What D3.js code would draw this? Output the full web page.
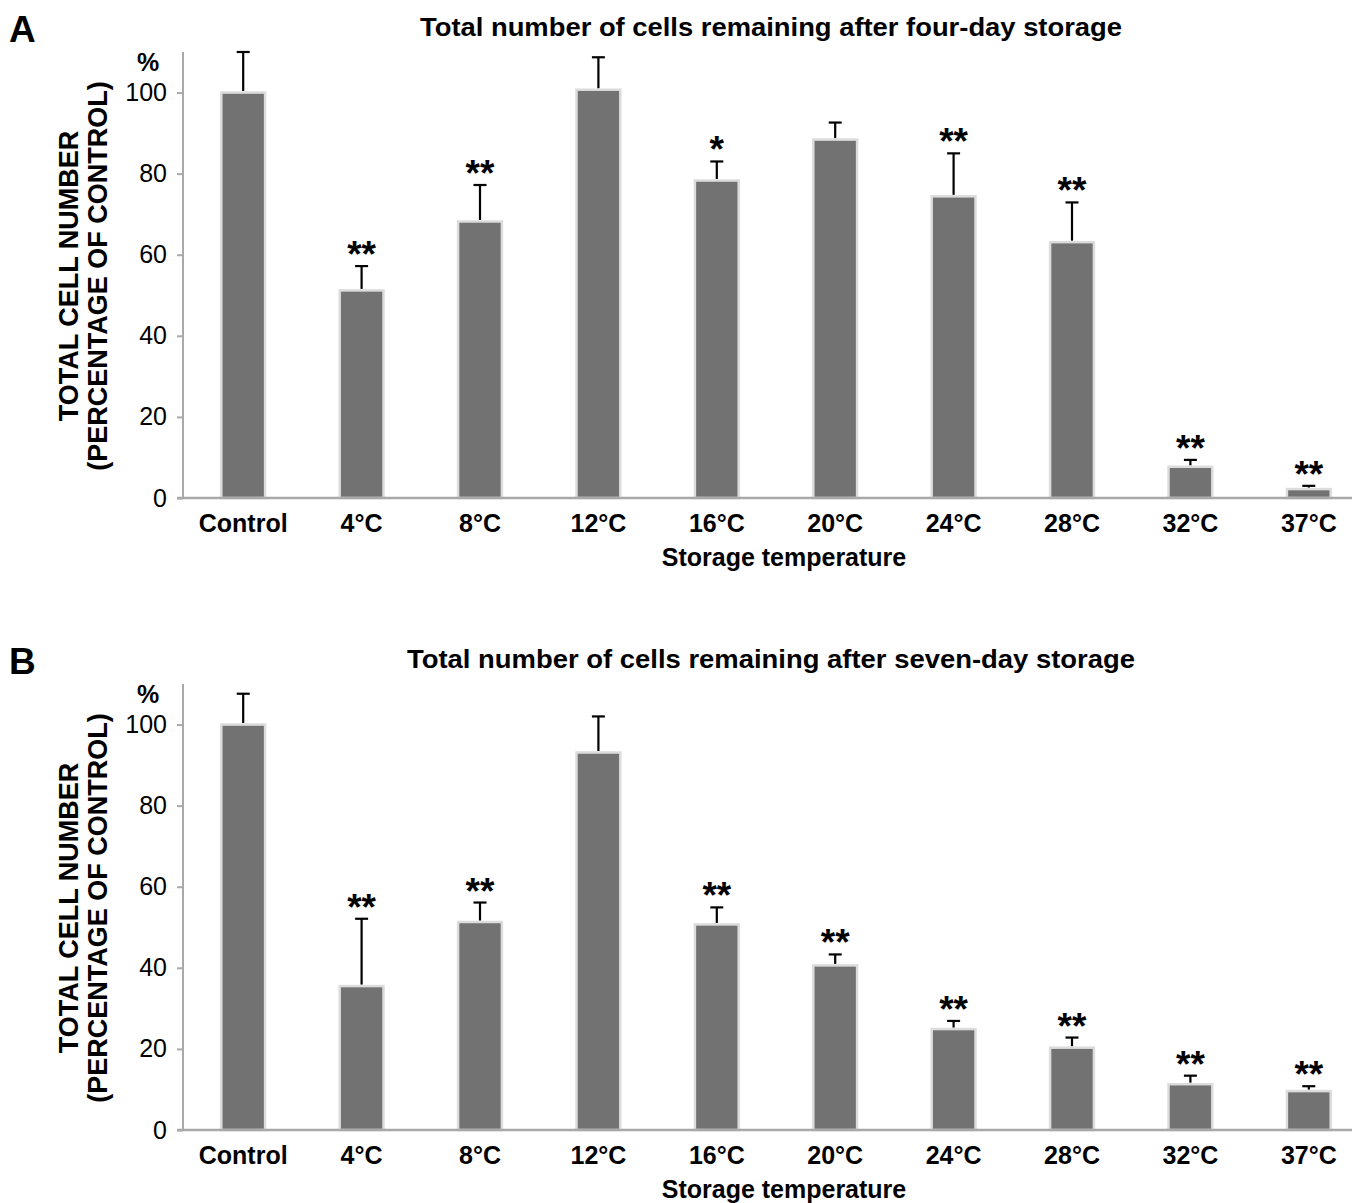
<!DOCTYPE html>
<html>
<head>
<meta charset="utf-8">
<script src="https://cdn.jsdelivr.net/npm/d3@7"></script>
<style>
  html, body { margin: 0; padding: 0; background: #fff; }
  svg { display: block; }
  text { font-family: "Liberation Sans", Arial, Helvetica, sans-serif; fill: #000; }
</style>
</head>
<body>
<svg id="chart" width="1358" height="1203"></svg>
<script>
const categories = ["Control", "4°C", "8°C", "12°C", "16°C", "20°C", "24°C", "28°C", "32°C", "37°C"];
const yTicks = [0, 20, 40, 60, 80, 100];

const fourDayValues = [100, 51.2, 68.2, 100.7, 78.3, 88.4, 74.4, 63.1, 7.7, 2.2];
const fourDayErrors = [10, 6, 9, 8, 4.7, 4.2, 10.6, 9.8, 1.7, 0.8];
const fourDaySig = ["", "**", "**", "", "*", "", "**", "**", "**", "**"];

const sevenDayValues = [100, 35.5, 51.3, 93.1, 50.7, 40.6, 24.9, 20.3, 11.3, 9.6];
const sevenDayErrors = [7.6, 16.6, 4.8, 8.9, 4.2, 2.7, 2.0, 2.5, 2.1, 1.2];
const sevenDaySig = ["", "**", "**", "", "**", "**", "**", "**", "**", "**"];

const panels = [
  { letter: "A", title: "Total number of cells remaining after four-day storage",
    values: fourDayValues, errors: fourDayErrors, sig: fourDaySig, offset: 0 },
  { letter: "B", title: "Total number of cells remaining after seven-day storage",
    values: sevenDayValues, errors: sevenDayErrors, sig: sevenDaySig, offset: 632 }
];

const svg = d3.select("#chart");
const axisColor = "#a9a9a9";

const x = d3.scaleBand().domain(categories).range([184, 1368]).paddingInner(0.63).paddingOuter(0.315);

panels.forEach(p => {
  const g = svg.append("g").attr("transform", `translate(0,${p.offset})`);
  const y = d3.scaleLinear().domain([0, 110]).range([498, 52]);

  g.append("text").attr("x", 9).attr("y", 42)
    .style("font-size", "37px").style("font-weight", "bold").text(p.letter);

  g.append("text").attr("x", 771).attr("y", 36).attr("text-anchor", "middle")
    .style("font-family", "'Liberation Sans Narrow', 'Arial Narrow', 'Liberation Sans', sans-serif")
    .style("font-size", "26px").style("font-weight", "bold")
    .attr("textLength", p.letter === "A" ? 702 : 728).attr("lengthAdjust", "spacingAndGlyphs")
    .text(p.title);

  const yAxis = d3.axisLeft(y).tickValues(yTicks).tickSize(6).tickPadding(10).tickFormat(d3.format("d"));
  const ya = g.append("g").attr("transform", "translate(183,0)").call(yAxis);
  ya.select(".domain").attr("stroke", axisColor).attr("stroke-width", 2)
    .attr("d", `M0,${y(110)}V${y(0)}`);
  ya.selectAll(".tick line").attr("stroke", axisColor).attr("stroke-width", 2);
  ya.selectAll(".tick text").style("font-size", "25px")
    .style("font-family", "'Liberation Sans', Arial, sans-serif").attr("fill", "#000");

  g.append("text").attr("x", 148).attr("y", 71).attr("text-anchor", "middle")
    .style("font-size", "25px").style("font-weight", "bold").text("%");

  const yl = g.append("text").attr("transform", "translate(0,276) rotate(-90)")
    .attr("text-anchor", "middle").style("font-size", "27px").style("font-weight", "bold");
  yl.append("tspan").attr("x", 0).attr("y", 78).text("TOTAL CELL NUMBER");
  yl.append("tspan").attr("x", 0).attr("y", 107).text("(PERCENTAGE OF CONTROL)");

  g.selectAll("rect.bar").data(categories).enter().append("rect")
    .attr("class", "bar")
    .attr("x", d => x(d))
    .attr("width", x.bandwidth())
    .attr("y", (d, i) => y(p.values[i]))
    .attr("height", (d, i) => y(0) - y(p.values[i]))
    .attr("fill", "#727272")
    .attr("stroke", "#dcdcdc")
    .attr("stroke-width", 2.5);

  const eg = g.selectAll("g.err").data(categories).enter().append("g").attr("class", "err");
  eg.append("line")
    .attr("x1", d => x(d) + x.bandwidth() / 2).attr("x2", d => x(d) + x.bandwidth() / 2)
    .attr("y1", (d, i) => y(p.values[i]) - 1.5).attr("y2", (d, i) => y(p.values[i] + p.errors[i]))
    .attr("stroke", "#000").attr("stroke-width", 2.2);
  eg.append("line")
    .attr("x1", d => x(d) + x.bandwidth() / 2 - 6.5).attr("x2", d => x(d) + x.bandwidth() / 2 + 6.5)
    .attr("y1", (d, i) => y(p.values[i] + p.errors[i])).attr("y2", (d, i) => y(p.values[i] + p.errors[i]))
    .attr("stroke", "#000").attr("stroke-width", 2.2);

  g.selectAll("text.sig").data(categories).enter().append("text")
    .attr("class", "sig")
    .attr("x", d => x(d) + x.bandwidth() / 2)
    .attr("y", (d, i) => y(p.values[i] + p.errors[i]) + 1)
    .attr("text-anchor", "middle")
    .style("font-size", "37px").style("font-weight", "bold")
    .text((d, i) => p.sig[i]);

  const xAxis = d3.axisBottom(x).tickSize(0).tickPadding(16);
  const xa = g.append("g").attr("transform", `translate(0,${y(0)})`).call(xAxis);
  xa.select(".domain").attr("stroke", axisColor).attr("stroke-width", 2.5)
    .attr("d", "M177,0H1352");
  xa.selectAll(".tick text").style("font-size", "25px").style("font-weight", "bold")
    .style("font-family", "'Liberation Sans', Arial, sans-serif").attr("fill", "#000");

  g.append("text").attr("x", 784).attr("y", 566).attr("text-anchor", "middle")
    .style("font-size", "25px").style("font-weight", "bold").text("Storage temperature");
});
</script>
</body>
</html>
